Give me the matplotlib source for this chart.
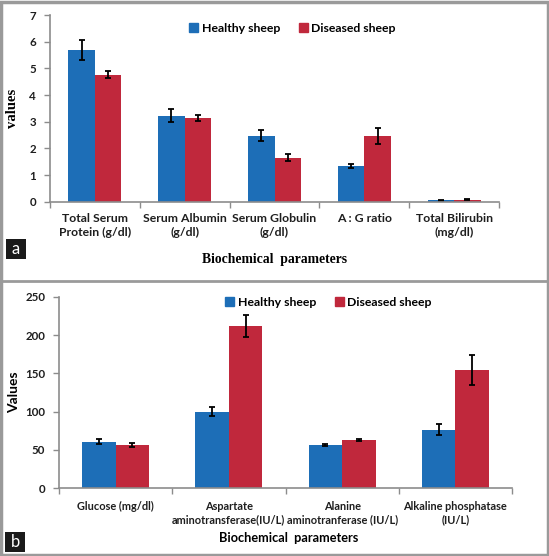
import numpy as np
import matplotlib
matplotlib.use("Agg")
import matplotlib.pyplot as plt
from matplotlib.patches import Rectangle
from matplotlib.lines import Line2D

# ---------------------------------------------------------------------------
# Data
# ---------------------------------------------------------------------------
series_names = ["Healthy sheep", "Diseased sheep"]

cats_a = ["Total Serum\nProtein (g/dl)", "Serum Albumin\n(g/dl)",
          "Serum Globulin\n(g/dl)", "A : G ratio", "Total Bilirubin\n(mg/dl)"]
healthy_a = [5.70, 3.23, 2.47, 1.33, 0.06]
healthy_a_err = [0.37, 0.23, 0.20, 0.08, 0.02]
diseased_a = [4.76, 3.14, 1.65, 2.46, 0.08]
diseased_a_err = [0.13, 0.12, 0.14, 0.30, 0.02]

cats_b = ["Glucose (mg/dl)", "Aspartate\naminotransferase(IU/L)",
          "Alanine\naminotranferase (IU/L)", "Alkaline phosphatase\n(IU/L)"]
healthy_b = [61, 100, 56.5, 76.5]
healthy_b_err = [3, 5.5, 1.5, 7]
diseased_b = [56.5, 211.5, 63, 154.5]
diseased_b_err = [2, 14, 1.5, 19.5]

BLUE = '#1d6eb7'
RED = '#c0283c'
AXIS_GRAY = '#8c8c8c'
TEXT = '#1e1e1e'
W, H = 549, 556


def px_axes(fig, x0, x1, y_top, y_bot):
    """Add axes from pixel coordinates (y measured from the top)."""
    return fig.add_axes([x0 / W, 1 - y_bot / H, (x1 - x0) / W, (y_bot - y_top) / H])


def draw_panel(ax, cats, h, h_err, d, d_err, ymax, ystep, cat_size, tick_size,
               cat_pad):
    n = len(cats)
    x = np.arange(n)
    bw = 0.295
    ax.bar(x - bw / 2, h, bw, color=BLUE, yerr=h_err, capsize=2.5,
           error_kw=dict(ecolor='black', elinewidth=1.3, capthick=1.3))
    ax.bar(x + bw / 2, d, bw, color=RED, yerr=d_err, capsize=2.5,
           error_kw=dict(ecolor='black', elinewidth=1.3, capthick=1.3))
    ax.set_xlim(-0.5, n - 0.5)
    ax.set_ylim(0, ymax)
    ax.set_yticks(np.arange(0, ymax + ystep / 2, ystep))
    ax.set_xticks(x)
    ax.set_xticklabels(cats, fontsize=cat_size, family='Lato',
                       fontweight='bold', color=TEXT, linespacing=1.3)
    ax.set_xticks(np.arange(-0.5, n, 1), minor=True)
    ax.tick_params(axis='x', which='major', length=0, pad=cat_pad)
    ax.tick_params(axis='x', which='minor', length=4, direction='out',
                   color=AXIS_GRAY, width=1)
    ax.tick_params(axis='y', length=4, direction='out', color=AXIS_GRAY,
                   width=1, pad=6)
    for lab in ax.get_yticklabels():
        lab.set_fontsize(tick_size)
        lab.set_family('Lato')
        lab.set_fontweight('bold')
        lab.set_color(TEXT)
    for s in ['top', 'right']:
        ax.spines[s].set_visible(False)
    for s in ['left', 'bottom']:
        ax.spines[s].set_color(AXIS_GRAY)
        ax.spines[s].set_linewidth(1.2)


fig = plt.figure(figsize=(W / 100, H / 100), dpi=100)

# border and separator
fig.patches.append(Rectangle((0.002, 0.002), 0.996, 0.994, transform=fig.transFigure,
                             fill=False, edgecolor='#9a9a9a', linewidth=2.5))
fig.add_artist(Line2D([0, 1], [1 - 281 / H, 1 - 281 / H], transform=fig.transFigure,
                      color='#9a9a9a', linewidth=2))

# Panel a
ax_a = px_axes(fig, 50, 499, 15, 201.7)
draw_panel(ax_a, cats_a, healthy_a, healthy_a_err, diseased_a, diseased_a_err,
           7, 1, 8.8, 8.3, 8)
fig.text(12 / W, 1 - 108 / H, 'values', rotation=90, ha='center', va='center',
         family='Liberation Serif', fontweight='bold', fontsize=10.5)
fig.text(275 / W, 1 - 259 / H, 'Biochemical  parameters', ha='center', va='center',
         family='Liberation Serif', fontweight='bold', fontsize=9.8)

# Panel b
ax_b = px_axes(fig, 59, 512, 296.7, 488.3)
draw_panel(ax_b, cats_b, healthy_b, healthy_b_err, diseased_b, diseased_b_err,
           250, 50, 7.9, 8.3, 9)
fig.text(14 / W, 1 - 392 / H, 'Values', rotation=90, ha='center', va='center',
         family='Lato', fontweight='bold', fontsize=10)
fig.text(289 / W, 1 - 538 / H, 'Biochemical  parameters', ha='center', va='center',
         family='Lato', fontweight='bold', fontsize=9.2)

# legends
handles = [Rectangle((0, 0), 1, 1, color=BLUE), Rectangle((0, 0), 1, 1, color=RED)]
for xl, yc in [(183, 28), (219, 302)]:
    fig.legend(handles, series_names, loc='center left',
               bbox_to_anchor=(xl / W, 1 - yc / H), ncol=2, frameon=False,
               handlelength=0.75, handleheight=0.75, handletextpad=0.3,
               columnspacing=1.5, borderpad=0,
               prop=dict(family='Lato', weight='bold', size=8.8))

# panel letters
for letter, x0, y0 in [('a', 6, 239), ('b', 5, 532)]:
    fig.patches.append(Rectangle((x0 / W, 1 - (y0 + 20) / H), 20 / W, 20 / H,
                                 transform=fig.transFigure, facecolor='#1a1a1a',
                                 edgecolor='none'))
    fig.text((x0 + 10) / W, 1 - (y0 + 10) / H, letter, color='white',
             ha='center', va='center', family='Lato', fontsize=12)

fig.savefig('out.png', dpi=100)
